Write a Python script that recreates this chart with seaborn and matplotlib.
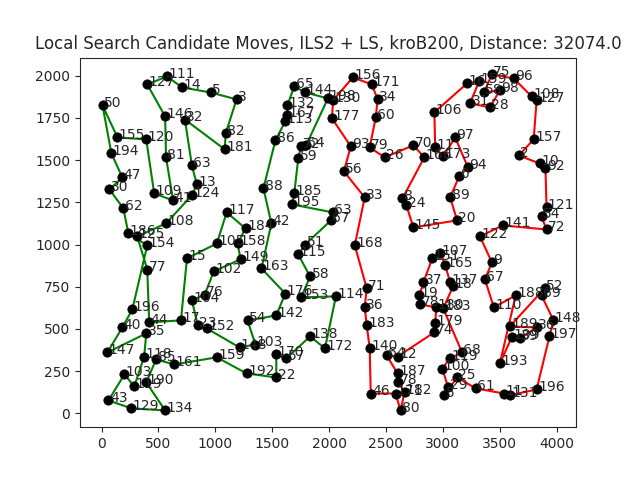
import matplotlib
matplotlib.use("Agg")
import matplotlib.pyplot as plt
import numpy as np
import pandas as pd
import seaborn as sns

sns.set_style("ticks")
plt.rcParams["font.family"] = ["DejaVu Sans"]

# green tour
green_labels = ["50", "194", "47", "30", "62", "186", "154", "196", "40", "147", "35", "118", "119",
                "103", "43", "129", "134", "190", "85", "161", "159", "192", "22", "170", "57",
                "138", "172", "114", "153", "58", "115", "51", "67", "63", "195", "185", "59",
                "72", "64", "198", "144", "65", "132", "167", "113", "86", "88", "42", "163",
                "176", "142", "54", "103", "148", "152", "23", "104", "76", "102", "149", "158",
                "184", "117", "105", "15", "17", "44", "77", "125", "108", "124", "13", "63",
                "32", "181", "82", "3", "5", "14", "111", "127", "146", "81", "41", "109", "120", "155"]
green_x = [9, 87, 183, 70, 192, 236, 402, 271, 183, 52, 393, 375, 288,
           201, 61, 262, 559, 393, 480, 637, 1013, 1275, 1536, 1536, 1624,
           1833, 1964, 2060, 1755, 1833, 1729, 1790, 2017, 2034, 1676, 1694, 1729,
           1755, 1798, 1990, 1790, 1694, 1633, 1633, 1615, 1528, 1423, 1493, 1406,
           1615, 1536, 1283, 1353, 1213, 925, 847, 794, 908, 986, 1222, 1196,
           1266, 1100, 1013, 751, 698, 419, 402, 314, 567, 794, 838, 794,
           733, 1083, 1091, 1187, 960, 707, 576, 402, 559, 567, 629, 463, 393, 140]
green_y = [1823, 1539, 1397, 1326, 1214, 1066, 995, 616, 509, 361, 474, 337, 160,
           231, 77, 30, 18, 184, 320, 290, 332, 237, 213, 349, 326,
           456, 385, 693, 687, 811, 941, 1000, 1143, 1190, 1237, 1302, 1510,
           1581, 1587, 1865, 1900, 1936, 1823, 1764, 1729, 1616, 1332, 1125, 858,
           710, 580, 551, 408, 391, 503, 521, 669, 704, 841, 912, 1006,
           1095, 1190, 1006, 918, 551, 539, 852, 1048, 1125, 1291, 1356, 1468,
           1740, 1563, 1658, 1859, 1900, 1930, 1995, 1948, 1758, 1516, 1261, 1302, 1622, 1634]

# red tour
red_labels = ["130", "156", "171", "34", "60", "79", "26", "70", "166", "8", "24", "145", "20",
              "89", "0", "94", "97", "173", "11", "106", "16", "159", "31", "28", "98", "58",
              "75", "96", "108", "127", "157", "2", "10", "92", "121", "54", "72", "141", "122",
              "9", "67", "110", "188", "193", "199", "39", "36", "189", "52", "69", "148", "197",
              "196", "131", "11", "61", "25", "5", "29", "100", "119", "68", "183", "18", "137",
              "165", "107", "151", "37", "19", "78", "180", "179", "74", "12", "64", "187", "78",
              "182", "80", "171", "46", "140", "183", "36", "71", "168", "33", "56", "93", "177"]
red_x = [2034, 2209, 2375, 2427, 2410, 2357, 2488, 2741, 2837, 2645, 2680, 2741, 3125,
         3064, 3143, 3221, 3108, 3003, 2933, 2925, 3213, 3317, 3239, 3413, 3501, 3361,
         3431, 3623, 3780, 3824, 3798, 3667, 3850, 3902, 3911, 3867, 3911, 3527, 3326,
         3431, 3370, 3448, 3640, 3501, 3605, 3675, 3824, 3588, 3894, 3867, 3972, 3937,
         3824, 3588, 3536, 3291, 3125, 3012, 3047, 2994, 3064, 3169, 3003, 3090, 3064,
         3021, 2977, 2907, 2829, 2794, 2802, 2942, 2933, 2925, 2602, 2506, 2602, 2610,
         2663, 2628, 2584, 2366, 2357, 2331, 2313, 2331, 2226, 2313, 2130, 2191, 2026]
red_y = [1853, 1989, 1948, 1859, 1752, 1575, 1516, 1587, 1516, 1273, 1231, 1101, 1143,
         1279, 1403, 1456, 1634, 1521, 1575, 1782, 1954, 1965, 1835, 1812, 1912, 1900,
         2007, 1983, 1877, 1853, 1622, 1527, 1480, 1450, 1220, 1166, 1089, 1113, 1048,
         894, 793, 628, 699, 296, 450, 444, 509, 515, 740, 699, 551, 456,
         142, 107, 118, 148, 213, 107, 154, 266, 326, 361, 622, 752, 776,
         876, 947, 918, 776, 699, 645, 628, 533, 480, 337, 343, 237, 184,
         124, 18, 118, 118, 385, 521, 628, 740, 995, 1279, 1433, 1581, 1746]

fig, ax = plt.subplots(figsize=(6.4, 4.8), dpi=100)

for labels, xs, ys, color in [(green_labels, green_x, green_y, "green"),
                              (red_labels, red_x, red_y, "red")]:
    df = pd.DataFrame({"x": xs + xs[:1], "y": ys + ys[:1]})
    sns.lineplot(data=df, x="x", y="y", sort=False, estimator=None, color=color,
                 linewidth=1.5, ax=ax, zorder=1)

all_x = green_x + red_x
all_y = green_y + red_y
all_labels = green_labels + red_labels
sns.scatterplot(x=all_x, y=all_y, color="black", s=45, edgecolor="black", ax=ax, zorder=2)
for lab, x, y in zip(all_labels, all_x, all_y):
    ax.annotate(lab, (x, y), xytext=(1, -3), textcoords="offset points",
                fontsize=10, ha="left", va="bottom")

for s in ax.spines.values():
    s.set_visible(True)
ax.set_xlabel("")
ax.set_ylabel("")
ax.set_xticks([0, 500, 1000, 1500, 2000, 2500, 3000, 3500, 4000])
ax.set_yticks([0, 250, 500, 750, 1000, 1250, 1500, 1750, 2000])
ax.set_title("Local Search Candidate Moves, ILS2 + LS, kroB200, Distance: 32074.0")
fig.savefig("out.png", dpi=100)
